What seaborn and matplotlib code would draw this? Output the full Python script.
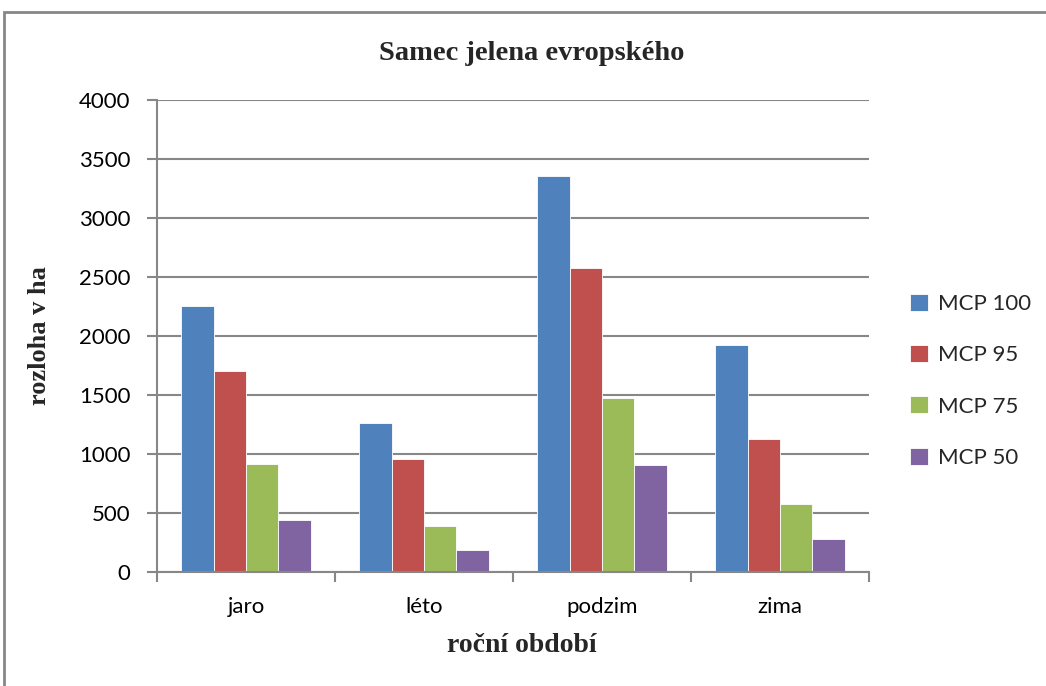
import matplotlib
matplotlib.use("Agg")
import matplotlib.pyplot as plt
from matplotlib.patches import Rectangle
from matplotlib.ticker import FixedLocator
import seaborn as sns
import pandas as pd

# Home-range size (ha) of a red deer stag by season and MCP level
seasons = ["jaro", "léto", "podzim", "zima"]
series = ["MCP 100", "MCP 95", "MCP 75", "MCP 50"]
mcp100 = [2255, 1260, 3360, 1925]
mcp95 = [1700, 955, 2575, 1127]
mcp75 = [915, 393, 1472, 576]
mcp50 = [442, 184, 904, 282]
colors = ["#4F81BD", "#C0504D", "#9BBB59", "#8064A2"]

df = pd.DataFrame({
    "season": seasons * 4,
    "series": [s for s in series for _ in seasons],
    "value": mcp100 + mcp95 + mcp75 + mcp50,
})

sns.set_theme(style="white")
plt.rcParams["font.family"] = ["Lato", "DejaVu Sans"]

fig = plt.figure(figsize=(10.46, 6.86), dpi=100)
ax = fig.add_axes([157 / 1046, 114 / 686, 712 / 1046, 472 / 686])

sns.barplot(data=df, x="season", y="value", hue="series", order=seasons,
            hue_order=series, palette=colors, width=0.725, ax=ax,
            edgecolor="white", linewidth=0.6, saturation=1, errorbar=None)

ax.set_xlim(-0.5, 3.5)
ax.set_ylim(0, 4000)
ax.set_yticks(range(0, 4001, 500))
ax.yaxis.grid(True, color="#878787", linewidth=1.5)
ax.set_axisbelow(True)

grey = "#878787"
for side in ("top", "right"):
    ax.spines[side].set_visible(False)
for side in ("left", "bottom"):
    ax.spines[side].set_color(grey)
    ax.spines[side].set_linewidth(1.5)

ax.tick_params(axis="y", which="major", left=True, length=7, width=1.5,
               color=grey, labelsize=16, pad=12, labelcolor="black")
ax.tick_params(axis="x", which="major", bottom=False, labelsize=16,
               pad=12, labelcolor="black")
ax.xaxis.set_minor_locator(FixedLocator([-0.5, 0.5, 1.5, 2.5, 3.5]))
ax.tick_params(axis="x", which="minor", bottom=True, length=7, width=1.5,
               color=grey)

serif = ["Liberation Serif", "DejaVu Serif"]
ax.set_xlabel("roční období", family=serif, fontweight="bold", fontsize=20)
ax.xaxis.set_label_coords(0.513, -0.13)
ax.set_ylabel("rozloha v ha", family=serif, fontweight="bold", fontsize=19,
              labelpad=20)
fig.text(532 / 1046, 1 - 53 / 686, "Samec jelena evropského", family=serif,
         fontweight="bold", fontsize=20.5, ha="center", va="center")

handles, labels = ax.get_legend_handles_labels()
ax.legend(handles, labels, loc="center left", bbox_to_anchor=(1.03, 0.405),
          frameon=False, fontsize=16, handlelength=0.8, handleheight=0.8,
          handletextpad=0.45, labelspacing=1.4)

# outer chart border
fig.patches.append(Rectangle((4 / 1046, -0.1), 1.1, 1 - 12 / 686 + 0.1,
                             transform=fig.transFigure, fill=False,
                             edgecolor=grey, linewidth=2))

fig.savefig("out.png", dpi=100)
